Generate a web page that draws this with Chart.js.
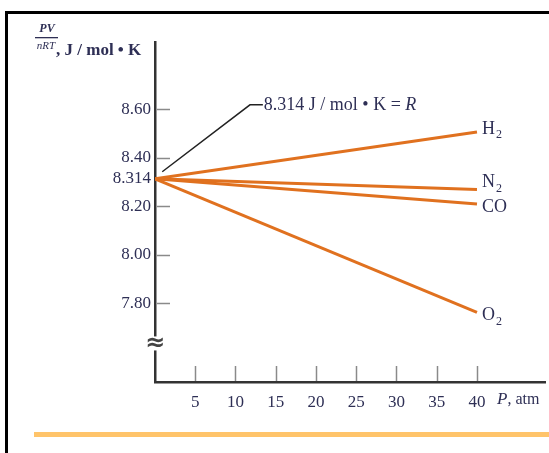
<!DOCTYPE html>
<html>
<head>
<meta charset="utf-8">
<script src="https://cdn.jsdelivr.net/npm/chart.js@4"></script>
<style>
  html, body { margin: 0; padding: 0; background: #fff; }
  canvas { display: block; }
</style>
</head>
<body>
<canvas id="chartPV" width="549" height="453"></canvas>
<script>
// --- data ---
const pressure = [0, 40];              // P, atm
const h2Values = [8.314, 8.507];
const n2Values = [8.314, 8.27];
const coValues = [8.314, 8.21];
const o2Values = [8.314, 7.763];
const gasNames = ["H", "N", "CO", "O"];
const gasSubs = ["2", "2", "", "2"];
const xTicks = [5, 10, 15, 20, 25, 30, 35, 40];
const yTicks = [7.80, 8.00, 8.20, 8.314, 8.40, 8.60];
const yTickLabels = ["7.80", "8.00", "8.20", "8.314", "8.40", "8.60"];
// leader line from R value to its label
const leaderX = [0.9, 11.8, 13.4];
const leaderY = [8.343, 8.619, 8.619];

const ORANGE = "#e0711f";
const INK = "#2e2f55";
const SERIF = "'Liberation Serif', 'DejaVu Serif', serif";

const toPts = (xs, ys) => xs.map((x, i) => ({ x: x, y: ys[i] }));
const gasSeries = [h2Values, n2Values, coValues, o2Values];
// label offsets (pixels) from each line's end point
const labelDy = [-3, -7, 3, 3];

const decorPlugin = {
  id: "decor",
  beforeDraw(chart) {
    const c = chart.ctx;
    c.save();
    // page frame from the scanned figure
    c.fillStyle = "#000";
    c.fillRect(5, 11, 549, 3);
    c.fillRect(5, 11, 3, 453);
    // orange rule under the figure
    c.fillStyle = "#ffc46a";
    c.fillRect(34, 432, 515, 5);
    c.restore();
  },
  afterDraw(chart) {
    const c = chart.ctx;
    const xs = chart.scales.x, ys = chart.scales.y;
    const area = chart.chartArea;
    c.save();

    // inward tick marks
    c.strokeStyle = "#8a8a8a";
    c.lineWidth = 1.5;
    yTicks.forEach((v) => {
      if (v === 8.314) return;
      const y = Math.round(ys.getPixelForValue(v)) + 0.5;
      c.beginPath();
      c.moveTo(area.left + 2, y);
      c.lineTo(area.left + 15, y);
      c.stroke();
    });
    xTicks.forEach((v) => {
      const x = Math.round(xs.getPixelForValue(v)) + 0.5;
      c.beginPath();
      c.moveTo(x, area.bottom - 16);
      c.lineTo(x, area.bottom - 1);
      c.stroke();
    });

    // axis break mark
    const by = ys.getPixelForValue(7.635);
    c.fillStyle = "#fff";
    c.fillRect(area.left - 8, by - 7, 16, 14);
    c.fillStyle = "#444";
    c.font = "bold 24px 'DejaVu Sans'";
    c.textAlign = "center";
    c.textBaseline = "middle";
    c.fillText("\u2248", area.left, by);

    // y axis title: PV/nRT, J / mol · K
    c.fillStyle = INK;
    c.textAlign = "center";
    c.textBaseline = "middle";
    c.font = "italic bold 12px " + SERIF;
    c.fillText("PV", 47, 29);
    c.font = "italic 11px " + SERIF;
    c.fillText("nRT", 46, 46);
    c.fillRect(35, 37, 23, 1.3);
    c.textAlign = "left";
    c.textBaseline = "alphabetic";
    c.font = "bold 17px " + SERIF;
    c.fillText(", J / mol \u2022 K", 56, 55);

    // x axis title
    c.textBaseline = "middle";
    c.font = "italic 17px " + SERIF;
    c.fillText("P", 497, 400);
    const pw = c.measureText("P").width;
    c.font = "16px " + SERIF;
    c.fillText(", atm", 497 + pw, 400);

    // R annotation
    c.font = "18px " + SERIF;
    const rText = "8.314 J / mol \u2022 K = ";
    const tx = xs.getPixelForValue(leaderX[2]) + 1;
    const ty = ys.getPixelForValue(leaderY[2]);
    c.fillText(rText, tx, ty);
    const rw = c.measureText(rText).width;
    c.font = "italic 18px " + SERIF;
    c.fillText("R", tx + rw, ty);

    // gas labels at line ends
    gasSeries.forEach((vals, i) => {
      const ex = xs.getPixelForValue(pressure[1]) + 5;
      const ey = ys.getPixelForValue(vals[1]) + labelDy[i];
      c.font = "18px " + SERIF;
      c.textBaseline = "middle";
      c.fillText(gasNames[i], ex, ey);
      if (gasSubs[i]) {
        const w = c.measureText(gasNames[i]).width;
        c.font = "12px " + SERIF;
        c.fillText(gasSubs[i], ex + w + 1, ey + 6);
      }
    });
    c.restore();
  }
};

const gasDataset = (vals) => ({
  data: toPts(pressure, vals),
  borderColor: ORANGE,
  borderWidth: 3,
  pointRadius: 0,
  tension: 0
});

new Chart(document.getElementById("chartPV").getContext("2d"), {
  type: "line",
  data: {
    datasets: [
      gasDataset(h2Values),
      gasDataset(n2Values),
      gasDataset(coValues),
      gasDataset(o2Values),
      {
        data: toPts(leaderX, leaderY),
        borderColor: "#222",
        borderWidth: 1.5,
        pointRadius: 0,
        tension: 0
      }
    ]
  },
  options: {
    responsive: false,
    animation: false,
    layout: { padding: { top: 42, right: 4, bottom: 41, left: 0 } },
    plugins: { legend: { display: false }, tooltip: { enabled: false } },
    scales: {
      x: {
        type: "linear",
        min: 0,
        max: 48.45,
        afterBuildTicks: (scale) => { scale.ticks = xTicks.map((v) => ({ value: v })); },
        afterFit: (scale) => { scale.height = 30; scale.paddingLeft = 0; scale.paddingRight = 0; },
        grid: { display: false, drawTicks: false },
        border: { display: true, color: "#333", width: 2.5 },
        ticks: {
          padding: 10,
          color: INK,
          font: { family: SERIF, size: 17 },
          maxRotation: 0,
          autoSkip: false
        }
      },
      y: {
        type: "linear",
        min: 7.476,
        max: 8.878,
        afterBuildTicks: (scale) => { scale.ticks = yTicks.map((v) => ({ value: v })); },
        afterFit: (scale) => { scale.width = 155; },
        grid: { display: false, drawTicks: false },
        border: { display: true, color: "#333", width: 2.5 },
        ticks: {
          padding: 4,
          color: INK,
          font: { family: SERIF, size: 17 },
          autoSkip: false,
          callback: (v, i) => yTickLabels[i]
        }
      }
    }
  },
  plugins: [decorPlugin]
});
</script>
</body>
</html>
